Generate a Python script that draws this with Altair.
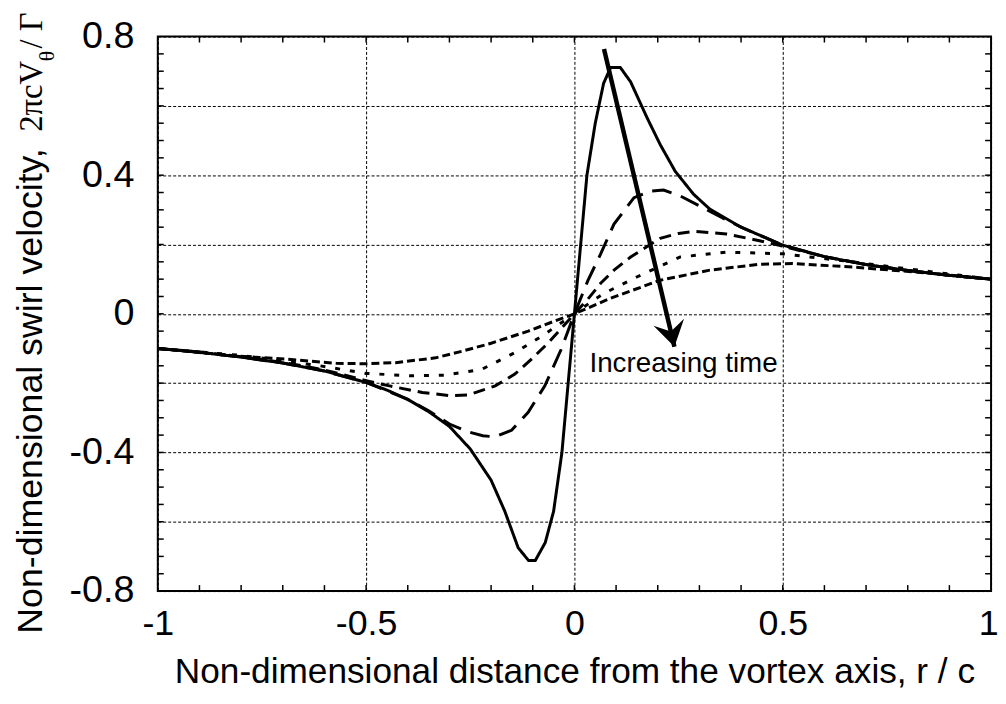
import altair as alt
import pandas as pd

# ---------------- data ----------------
SERIES = ["solid", "long dash", "medium dash", "dotted", "short dash"]
DASHES = [[1, 0], [20, 10], [12, 7], [5, 10], [8, 4]]

SOLID_X = [-1.0, -0.9, -0.8, -0.7, -0.6, -0.5, -0.45, -0.4, -0.35, -0.3, -0.25, -0.2, -0.167, -0.135,
           -0.11, -0.094, -0.07, -0.05, -0.03, -0.015, 0.0, 0.015, 0.03, 0.05, 0.07, 0.087, 0.11, 0.135,
           0.175, 0.206, 0.242, 0.286, 0.325, 0.4, 0.5, 0.6, 0.7, 0.8, 0.9, 1.0]
SOLID_Y = [-0.100, -0.111, -0.125, -0.142, -0.165, -0.198, -0.220, -0.247, -0.282, -0.325, -0.390, -0.480,
           -0.570, -0.675, -0.712, -0.712, -0.660, -0.570, -0.400, -0.200, 0.0, 0.200, 0.400, 0.550, 0.665,
           0.711, 0.711, 0.669, 0.564, 0.488, 0.411, 0.345, 0.302, 0.250, 0.198, 0.165, 0.142, 0.125, 0.111, 0.100]

LONG_X = [-1.0, -0.9, -0.8, -0.7, -0.6, -0.5, -0.4, -0.35, -0.3, -0.254, -0.22, -0.19, -0.151, -0.111,
          -0.071, -0.032, 0.0, 0.032, 0.063, 0.095, 0.143, 0.183, 0.214, 0.254, 0.302, 0.35, 0.4, 0.5,
          0.6, 0.7, 0.8, 0.9, 1.0]
LONG_Y = [-0.100, -0.111, -0.125, -0.142, -0.165, -0.198, -0.247, -0.280, -0.318, -0.341, -0.352, -0.355,
          -0.336, -0.284, -0.208, -0.103, 0.0, 0.095, 0.173, 0.259, 0.335, 0.354, 0.357, 0.340, 0.310,
          0.280, 0.250, 0.198, 0.165, 0.142, 0.125, 0.111, 0.100]

MED_X = [-1.0, -0.9, -0.8, -0.7, -0.6, -0.5, -0.444, -0.365, -0.3, -0.254, -0.19, -0.143, -0.103, -0.063,
         -0.03, 0.0, 0.032, 0.063, 0.095, 0.135, 0.206, 0.25, 0.29, 0.365, 0.444, 0.5, 0.6, 0.7, 0.8, 0.9, 1.0]
MED_Y = [-0.100, -0.110, -0.124, -0.140, -0.162, -0.193, -0.208, -0.227, -0.236, -0.234, -0.208, -0.174,
         -0.131, -0.084, -0.040, 0.0, 0.042, 0.088, 0.126, 0.164, 0.218, 0.232, 0.238, 0.230, 0.211, 0.195,
         0.165, 0.142, 0.125, 0.111, 0.100]

DOT_X = [-1.0, -0.9, -0.8, -0.73, -0.611, -0.5, -0.389, -0.31, -0.222, -0.143, -0.079, -0.04, 0.0, 0.035,
         0.071, 0.151, 0.254, 0.365, 0.5, 0.667, 0.825, 1.0]
DOT_Y = [-0.100, -0.110, -0.120, -0.131, -0.150, -0.172, -0.179, -0.177, -0.160, -0.112, -0.065, -0.033,
         0.0, 0.030, 0.059, 0.107, 0.164, 0.178, 0.173, 0.150, 0.126, 0.100]

SHORT_X = [-1.0, -0.81, -0.69, -0.571, -0.5, -0.429, -0.333, -0.27, -0.2, -0.111, -0.05, 0.0, 0.087, 0.206,
           0.325, 0.444, 0.524, 0.667, 0.825, 1.0]
SHORT_Y = [-0.100, -0.122, -0.131, -0.143, -0.144, -0.141, -0.127, -0.108, -0.085, -0.050, -0.022, 0.0,
           0.045, 0.097, 0.126, 0.143, 0.145, 0.135, 0.120, 0.100]

# axis ticks / labels
X_LABEL_VALUES = [-1, -0.5, 0, 0.5, 1]
X_LABEL_TEXT = ["-1", "-0.5", "0", "0.5", "1"]
Y_GRID_VALUES = [-0.8, -0.6, -0.4, -0.2, 0, 0.2, 0.4, 0.6, 0.8]
Y_LABEL_VALUES = [-0.8, -0.4, 0, 0.4, 0.8]
Y_LABEL_TEXT = ["-0.8", "-0.4", "0", "0.4", "0.8"]
X_MINOR = [-0.9, -0.8, -0.7, -0.6, -0.5, -0.4, -0.3, -0.2, -0.1, 0.0, 0.1, 0.2, 0.3, 0.4, 0.5, 0.6, 0.7, 0.8, 0.9]
Y_MINOR = [-0.75, -0.7, -0.65, -0.6, -0.55, -0.5, -0.45, -0.4, -0.35, -0.3, -0.25, -0.2, -0.15, -0.1, -0.05,
           0.0, 0.05, 0.1, 0.15, 0.2, 0.25, 0.3, 0.35, 0.4, 0.45, 0.5, 0.55, 0.6, 0.65, 0.7, 0.75]

# annotation
ARROW_START = [0.071, 0.764]
ARROW_END = [0.240, -0.095]
ANNOT_TEXT = ["Increasing time"]
ANNOT_POS = [0.036, -0.167]

X_TITLE = "Non-dimensional distance from the vortex axis,  r / c"
Y_TITLE_PARTS = ["Non-dimensional swirl velocity, ", "2\u03c0cV", "\u03b8", "/ \u0393"]

# ---------------- build ----------------
W, H = 840, 559
SANS = "Liberation Sans, Arial, sans-serif"
SERIF = "Liberation Serif, Times New Roman, serif"

rows = []
for name, xs, ys in zip(SERIES, [SOLID_X, LONG_X, MED_X, DOT_X, SHORT_X],
                        [SOLID_Y, LONG_Y, MED_Y, DOT_Y, SHORT_Y]):
    for i, (xv, yv) in enumerate(zip(xs, ys)):
        rows.append({"series": name, "i": i, "x": xv, "y": yv})
df = pd.DataFrame(rows)


def label_expr(values, texts):
    parts = [f"abs(datum.value - ({v})) < 1e-6 ? '{t}'" for v, t in zip(values, texts)]
    return " : ".join(parts) + " : ''"


X_SCALE = alt.Scale(domain=[-1, 1], nice=False, zero=False)
Y_SCALE = alt.Scale(domain=[-0.8, 0.8], nice=False, zero=False)

X_AXIS = alt.Axis(values=X_LABEL_VALUES, labelExpr=label_expr(X_LABEL_VALUES, X_LABEL_TEXT),
                  grid=True, gridColor="#000000", gridDash=[3, 2], gridWidth=1,
                  ticks=False, domain=False, labelFont=SANS, labelFontSize=36, labelColor="black",
                  labelPadding=16, labelFlush=False,
                  labelAlign={"expr": "datum.value > 0.99 ? 'right' : 'center'"},
                  labelOffset={"expr": "datum.value > 0.99 ? 7 : 0"},
                  title=X_TITLE, titleFont=SANS, titleFontSize=35.5, titleFontWeight="normal",
                  titleColor="black", titlePadding=13)
Y_AXIS = alt.Axis(values=Y_GRID_VALUES, labelExpr=label_expr(Y_LABEL_VALUES, Y_LABEL_TEXT),
                  grid=True, gridColor="#000000", gridDash=[3, 2], gridWidth=1,
                  ticks=False, domain=False, labelFont=SANS, labelFontSize=38, labelColor="black",
                  labelPadding=24, labelFlush=False, title=None)

XE = alt.X("x:Q", scale=X_SCALE, axis=X_AXIS)
YE = alt.Y("y:Q", scale=Y_SCALE, axis=Y_AXIS)

lines = alt.Chart(df).mark_line(color="black", strokeWidth=3, strokeCap="butt").encode(
    x=XE, y=YE,
    strokeDash=alt.StrokeDash("series:N", scale=alt.Scale(domain=SERIES, range=DASHES), legend=None),
    order=alt.Order("i:Q"),
)

xt = pd.DataFrame({"x": X_MINOR})
yt = pd.DataFrame({"y": Y_MINOR})
tick_bottom = alt.Chart(xt).mark_rule(color="black", strokeWidth=1.5).encode(
    x=XE, y=alt.value(H), y2=alt.value(H - 6))
tick_top = alt.Chart(xt).mark_rule(color="black", strokeWidth=1.5).encode(
    x=XE, y=alt.value(0), y2=alt.value(6))
tick_left = alt.Chart(yt).mark_rule(color="black", strokeWidth=1.5).encode(
    y=YE, x=alt.value(0), x2=alt.value(6))
tick_right = alt.Chart(yt).mark_rule(color="black", strokeWidth=1.5).encode(
    y=YE, x=alt.value(W), x2=alt.value(W - 6))

arrow_df = pd.DataFrame({"x": [ARROW_START[0]], "y": [ARROW_START[1]],
                         "xe": [ARROW_END[0]], "ye": [ARROW_END[1]]})
arrow = alt.Chart(arrow_df).mark_rule(color="black", strokeWidth=4.5, strokeCap="butt").encode(
    x=XE, y=YE, x2="xe:Q", y2="ye:Q")
head_df = pd.DataFrame({"x": [ARROW_END[0]], "y": [ARROW_END[1]]})
head = alt.Chart(head_df).mark_point(
    shape="M0,0L-1,-1.6L0,-1.0L1,-1.6Z", filled=True, size=1000, angle=347,
    color="black", opacity=1, strokeWidth=0).encode(x=XE, y=YE)

annot = alt.Chart(pd.DataFrame({"x": [ANNOT_POS[0]], "y": [ANNOT_POS[1]], "t": ANNOT_TEXT})).mark_text(
    align="left", baseline="alphabetic", font=SANS, fontSize=28, color="black").encode(
    x=XE, y=YE, text="t:N")

# y-axis title built from pieces (sans part, serif part, subscript, serif part)
title_layers = []
title_specs = [
    (Y_TITLE_PARTS[0], SANS, 36, 42 - 159, 636 - 34),
    (Y_TITLE_PARTS[1], SERIF, 33, 42 - 159, 130 - 34),
    (Y_TITLE_PARTS[2], SERIF, 22, 54 - 159, 59 - 34),
    (Y_TITLE_PARTS[3], SERIF, 33, 42 - 159, 46 - 34),
]
for txt, font, fs, px, py in title_specs:
    title_layers.append(
        alt.Chart(pd.DataFrame({"t": [txt]})).mark_text(
            align="left", baseline="alphabetic", angle=270, font=font, fontSize=fs, color="black"
        ).encode(text="t:N", x=alt.value(px), y=alt.value(py))
    )

chart = alt.layer(
    lines, tick_bottom, tick_top, tick_left, tick_right, arrow, head, annot, *title_layers
).properties(
    width=W, height=H,
    autosize=alt.AutoSizeParams(type="none"),
    padding={"left": 151, "top": 26, "right": 7, "bottom": 103},
    background="white",
).configure_view(stroke="black", strokeWidth=2)

chart.save("out.html", embed_options={"renderer": "svg", "actions": False})
